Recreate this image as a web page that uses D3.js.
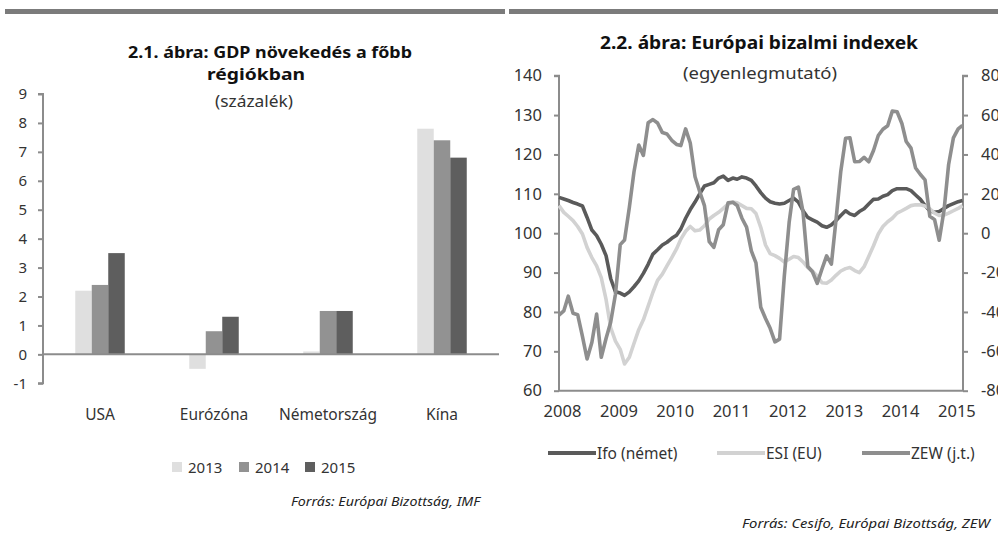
<!DOCTYPE html>
<html><head><meta charset="utf-8">
<script src="https://cdn.jsdelivr.net/npm/d3@7"></script>
<style>
html,body{margin:0;padding:0;background:#fff;}
svg{display:block;font-family:"Noto Sans","Open Sans",sans-serif;}
</style></head>
<body>
<svg id="c" width="998" height="533"></svg>
<script>
// ---- Chart 2.1 data ----
const regions = ["USA", "Eurózóna", "Németország", "Kína"];
const years = ["2013", "2014", "2015"];
const gdp2013 = [2.2, -0.5, 0.1, 7.8];
const gdp2014 = [2.4, 0.8, 1.5, 7.4];
const gdp2015 = [3.5, 1.3, 1.5, 6.8];
const gdpTicks = [-1, 0, 1, 2, 3, 4, 5, 6, 7, 8, 9];

// ---- Chart 2.2 data (monthly, Jan 2008 - Mar 2015) ----
const startMonth = "2008-01";
const ifo = [109.1,108.7,108.3,107.8,107.4,106.9,104.0,100.8,99.4,97.2,94.3,88.5,
 85.1,84.8,84.2,85.1,86.4,87.9,89.8,92.1,94.7,95.8,97.0,97.7,
 98.7,99.5,101.1,103.8,106.0,107.9,110.0,112.0,112.4,112.8,114.0,114.5,
 113.4,114.0,113.7,114.3,114.0,113.4,112.0,110.3,108.9,108.0,107.6,107.4,
 107.6,108.3,108.9,107.9,105.7,104.0,103.4,102.8,101.9,101.5,102.1,103.2,
 104.5,105.7,104.9,104.5,105.5,106.2,107.4,108.6,108.7,109.4,109.8,110.8,
 111.3,111.3,111.3,110.8,109.7,108.6,107.0,105.7,105.3,105.5,106.3,107.0,
 107.5,108.0,108.3];
const esi = [107.0,105.3,104.3,103.2,101.7,99.8,96.4,93.8,91.7,88.7,83.2,76.0,
 72.6,70.5,66.8,68.5,72.0,75.5,78.0,81.5,85.0,88.0,89.6,91.7,
 93.8,96.0,98.5,100.5,101.7,100.6,100.8,101.9,103.6,104.5,105.3,106.3,
 107.4,107.9,107.7,107.0,106.3,106.2,105.0,101.5,97.0,94.8,94.3,93.6,
 92.7,93.4,94.1,93.8,92.7,91.3,90.4,89.1,87.4,87.3,88.1,89.3,
 90.4,91.0,91.3,90.5,90.0,91.5,94.1,96.8,99.8,101.7,102.9,103.8,
 105.1,105.7,106.3,107.0,107.2,107.2,106.9,106.2,105.1,104.5,104.6,105.1,
 105.7,106.3,107.0];
const zew = [-41.6,-39.5,-32.0,-40.7,-41.4,-52.4,-63.9,-55.5,-41.1,-63.0,-53.5,-45.2,
 -31.0,-5.8,-3.5,13.0,31.1,44.8,39.5,56.1,57.7,56.0,51.1,50.4,
 47.2,45.1,44.5,53.0,45.8,28.7,21.2,14.0,-4.3,-7.2,1.8,4.3,
 15.4,15.7,14.1,7.6,3.1,-9.0,-15.1,-37.6,-43.3,-48.3,-55.2,-53.8,
 -21.6,5.4,22.3,23.4,10.8,-16.9,-19.6,-25.5,-18.2,-11.5,-15.7,6.9,
 31.5,48.2,48.5,36.3,36.4,38.5,36.3,42.0,49.6,52.8,54.6,62.0,
 61.7,55.7,46.6,43.2,33.1,29.8,27.1,8.6,6.9,-3.6,11.5,34.9,
 48.4,53.0,54.8];
const yearLabels = ["2008","2009","2010","2011","2012","2013","2014","2015"];
const leftTicks = [60,70,80,90,100,110,120,130,140];
const rightTicks = [-80,-60,-40,-20,0,20,40,60,80];
const seriesNames = ["Ifo (német)", "ESI (EU)", "ZEW (j.t.)"];

const svg = d3.select("#c");
const AX = "#8c8c8c", TXT = "#333333";
const fmt = d => String(d); // plain hyphen minus as in the reference

// top rules
svg.append("rect").attr("x",5).attr("y",9).attr("width",500).attr("height",5).attr("fill","#7b7b7b");
svg.append("rect").attr("x",509).attr("y",9).attr("width",489).attr("height",5).attr("fill","#7b7b7b");

// ================= Chart 2.1 =================
const g1 = svg.append("g");
const y1 = d3.scaleLinear().domain([-1,9]).range([383.3,94]);
const x1 = d3.scaleBand().domain(regions).range([43,499]).padding(0);
const groupW = 49.5;
const xs = d3.scaleBand().domain(years).range([0,groupW]).padding(0);
const barColors = {"2013":"#dfdfdf","2014":"#929292","2015":"#5e5e5e"};

g1.append("text").attr("x",128).attr("y",58)
  .attr("font-size",16.5).attr("font-weight","bold").attr("fill","#111")
  .attr("textLength",284).attr("lengthAdjust","spacingAndGlyphs")
  .text("2.1. ábra: GDP növekedés a főbb");
g1.append("text").attr("x",207).attr("y",80)
  .attr("font-size",16.5).attr("font-weight","bold").attr("fill","#111")
  .attr("textLength",98).attr("lengthAdjust","spacingAndGlyphs")
  .text("régiókban");
g1.append("text").attr("x",215).attr("y",107)
  .attr("font-size",16).attr("fill",TXT)
  .attr("textLength",78).attr("lengthAdjust","spacingAndGlyphs").text("(százalék)");

// bars
const seriesData = [gdp2013, gdp2014, gdp2015];
years.forEach((yr, si) => {
  g1.selectAll(null).data(regions).enter().append("rect")
    .attr("x", d => x1(d) + (x1.bandwidth()-groupW)/2 + xs(yr))
    .attr("width", xs.bandwidth())
    .attr("y", (d,i) => y1(Math.max(0, seriesData[si][i])))
    .attr("height", (d,i) => Math.abs(y1(seriesData[si][i]) - y1(0)))
    .attr("fill", barColors[yr]);
});

// y axis
const ax1 = g1.append("g").attr("transform","translate(43,0)")
  .call(d3.axisLeft(y1).tickValues(gdpTicks).tickSize(5).tickPadding(11).tickFormat(fmt));
ax1.select(".domain").attr("stroke",AX).attr("stroke-width",2).attr("d","M-5,94H0V383.3H-5");
ax1.selectAll(".tick line").attr("stroke",AX).attr("stroke-width",2);
ax1.selectAll(".tick text").attr("fill",TXT).attr("font-size",15).attr("font-family","Noto Sans");
// zero line
g1.append("line").attr("x1",43).attr("x2",499).attr("y1",y1(0)).attr("y2",y1(0))
  .attr("stroke",AX).attr("stroke-width",2);

// category labels
g1.selectAll(null).data(regions).enter().append("text")
  .attr("x", d => x1(d) + x1.bandwidth()/2).attr("y",420)
  .attr("text-anchor","middle").attr("font-size",15.5).attr("fill",TXT).text(d=>d);

// legend
const legX = [172, 239, 305];
years.forEach((yr,i) => {
  g1.append("rect").attr("x",legX[i]).attr("y",462).attr("width",10).attr("height",10).attr("fill",barColors[yr]);
  g1.append("text").attr("x",legX[i]+16).attr("y",473).attr("font-size",15).attr("fill",TXT).text(yr);
});

g1.append("text").attr("x",291).attr("y",506).attr("font-size",12.5).attr("font-style","italic")
  .attr("fill","#222").attr("textLength",189).attr("lengthAdjust","spacingAndGlyphs")
  .text("Forrás: Európai Bizottság, IMF");

// ================= Chart 2.2 =================
const g2 = svg.append("g");
const parse = d3.timeParse("%Y-%m");
const t0 = parse(startMonth);
const dates = ifo.map((_,i) => d3.timeMonth.offset(t0, i));
const x2 = d3.scaleTime().domain([dates[0], dates[dates.length-1]]).range([559, 962.5]);
const yL = d3.scaleLinear().domain([60,140]).range([390.7,75.7]);
const yR = d3.scaleLinear().domain([-80,80]).range([390.7,75.7]);

g2.append("text").attr("x",600).attr("y",49)
  .attr("font-size",18.5).attr("font-weight","bold").attr("fill","#111")
  .attr("textLength",318).attr("lengthAdjust","spacingAndGlyphs")
  .text("2.2. ábra: Európai bizalmi indexek");
g2.append("text").attr("x",683).attr("y",79)
  .attr("font-size",16.5).attr("fill",TXT)
  .attr("textLength",154).attr("lengthAdjust","spacingAndGlyphs").text("(egyenlegmutató)");

// axes
const axL = g2.append("g").attr("transform","translate(559,0)")
  .call(d3.axisLeft(yL).tickValues(leftTicks).tickSize(5).tickPadding(12).tickFormat(fmt));
axL.select(".domain").attr("stroke",AX).attr("stroke-width",2).attr("d","M-5,75.7H0V390.7");
axL.selectAll(".tick line").attr("stroke",AX).attr("stroke-width",2);
axL.selectAll(".tick text").attr("fill",TXT).attr("font-size",16.5).attr("font-family","Noto Sans");

const axR = g2.append("g").attr("transform","translate(963,0)")
  .call(d3.axisRight(yR).tickValues(rightTicks).tickSize(5).tickPadding(13).tickFormat(fmt));
axR.select(".domain").attr("stroke",AX).attr("stroke-width",2).attr("d","M5,75.7H0V390.7");
axR.selectAll(".tick line").attr("stroke",AX).attr("stroke-width",2);
axR.selectAll(".tick text").attr("fill",TXT).attr("font-size",16.5).attr("font-family","Noto Sans");

// bottom axis
g2.append("line").attr("x1",558).attr("x2",964).attr("y1",390.7).attr("y2",390.7)
  .attr("stroke",AX).attr("stroke-width",2);
g2.selectAll(null).data(yearLabels).enter().append("text")
  .attr("x", d => x2(parse(d+"-01")) + 3.5).attr("y",417)
  .attr("text-anchor","middle").attr("font-size",16.5).attr("fill",TXT).text(d=>d);

// lines
const lineColors = ["#5a5a5a","#d2d2d2","#8e8e8e"];
const lineL = d3.line().x((d,i)=>x2(dates[i])).y(d=>yL(d));
const lineR = d3.line().x((d,i)=>x2(dates[i])).y(d=>yR(d));
g2.append("path").datum(ifo).attr("d",lineL).attr("fill","none").attr("stroke",lineColors[0]).attr("stroke-width",3.6).attr("stroke-linejoin","round");
g2.append("path").datum(esi).attr("d",lineL).attr("fill","none").attr("stroke",lineColors[1]).attr("stroke-width",3.6).attr("stroke-linejoin","round");
g2.append("path").datum(zew).attr("d",lineR).attr("fill","none").attr("stroke",lineColors[2]).attr("stroke-width",3.6).attr("stroke-linejoin","round");

// legend
const lx = [548, 717, 862];
seriesNames.forEach((n,i) => {
  g2.append("line").attr("x1",lx[i]).attr("x2",lx[i]+48).attr("y1",453).attr("y2",453)
    .attr("stroke",lineColors[i]).attr("stroke-width",4);
  g2.append("text").attr("x",lx[i]+49).attr("y",459).attr("font-size",15.5).attr("fill",TXT).text(n);
});

g2.append("text").attr("x",742).attr("y",528).attr("font-size",12.5).attr("font-style","italic")
  .attr("fill","#222").attr("textLength",248).attr("lengthAdjust","spacingAndGlyphs")
  .text("Forrás: Cesifo, Európai Bizottság, ZEW");
</script>
</body></html>
